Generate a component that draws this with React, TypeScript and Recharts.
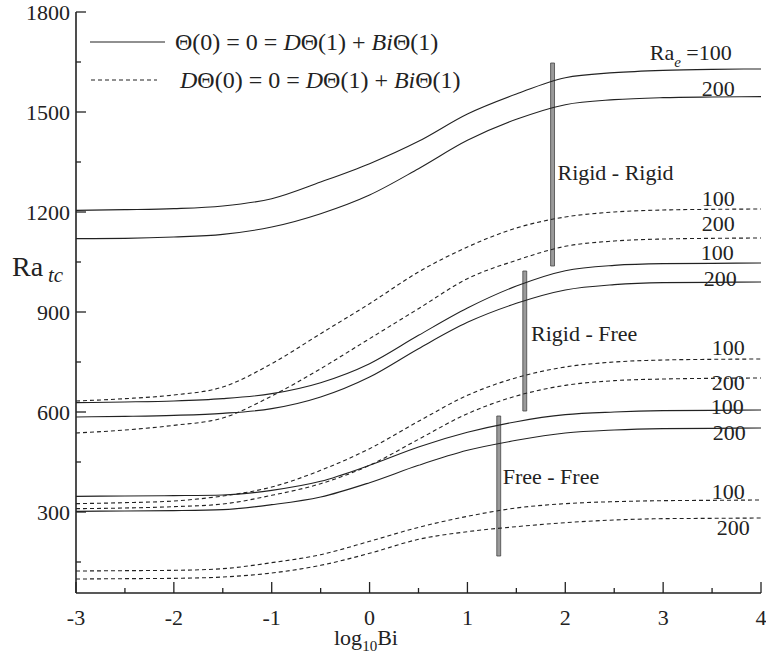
import React from "react";
import {
  LineChart,
  Line,
  XAxis,
  YAxis,
  ReferenceArea,
  ReferenceDot,
} from "recharts";

const FONT = '"Liberation Serif", "Times New Roman", serif';
const INK = "#222";
const TXT: React.CSSProperties = { fontFamily: FONT };

// log10 Bi sample points
const xs = [-3, -2.5, -2, -1.5, -1, -0.5, 0, 0.5, 1, 1.5, 2, 2.5, 3, 3.5, 4];

// Rigid - Rigid
const rrSolid100 = [1205, 1207, 1210, 1218, 1240, 1290, 1345, 1412, 1494, 1554, 1603, 1618, 1625, 1628, 1629];
const rrSolid200 = [1120, 1121, 1125, 1133, 1155, 1195, 1251, 1330, 1415, 1478, 1522, 1537, 1543, 1545, 1546];
const rrDash100 = [633, 640, 651, 675, 745, 835, 925, 1020, 1095, 1152, 1185, 1200, 1206, 1208, 1209];
const rrDash200 = [537, 546, 560, 582, 648, 730, 820, 910, 1000, 1055, 1097, 1113, 1119, 1121, 1122];

// Rigid - Free
const rfSolid100 = [628, 630, 633, 640, 655, 688, 745, 830, 912, 978, 1024, 1040, 1045, 1046, 1047];
const rfSolid200 = [585, 587, 590, 596, 610, 645, 705, 790, 869, 926, 966, 982, 988, 989, 990];
const rfDash100 = [325, 328, 333, 348, 375, 425, 490, 572, 650, 703, 735, 750, 756, 758, 759];
const rfDash200 = [310, 312, 316, 324, 350, 385, 440, 518, 595, 648, 680, 694, 699, 701, 702];

// Free - Free
const ffSolid100 = [347, 348, 349, 351, 365, 392, 440, 495, 539, 571, 592, 600, 604, 605, 606];
const ffSolid200 = [302, 303, 304, 307, 322, 345, 388, 440, 485, 515, 537, 546, 550, 551, 552];
const ffDash100 = [123, 124, 125, 130, 148, 172, 212, 254, 287, 312, 325, 331, 334, 335, 336];
const ffDash200 = [99, 100, 101, 105, 117, 140, 176, 218, 241, 256, 268, 276, 280, 281, 282];

const xTicks = [-3, -2.5, -2, -1.5, -1, -0.5, 0, 0.5, 1, 1.5, 2, 2.5, 3, 3.5, 4];
const yTicks = [150, 300, 450, 600, 750, 900, 1050, 1200, 1350, 1500, 1650, 1800];
const xDomain = [-3, 4];
const yDomain = [57, 1800];

const series = [
  { key: "rrS100", values: rrSolid100, dashed: false },
  { key: "rrS200", values: rrSolid200, dashed: false },
  { key: "rrD100", values: rrDash100, dashed: true },
  { key: "rrD200", values: rrDash200, dashed: true },
  { key: "rfS100", values: rfSolid100, dashed: false },
  { key: "rfS200", values: rfSolid200, dashed: false },
  { key: "rfD100", values: rfDash100, dashed: true },
  { key: "rfD200", values: rfDash200, dashed: true },
  { key: "ffS100", values: ffSolid100, dashed: false },
  { key: "ffS200", values: ffSolid200, dashed: false },
  { key: "ffD100", values: ffDash100, dashed: true },
  { key: "ffD200", values: ffDash200, dashed: true },
];

const data = xs.map((x, i) => {
  const row: Record<string, number> = { x };
  series.forEach((s) => {
    row[s.key] = s.values[i];
  });
  return row;
});

// vertical gray bars
const bars = [
  { x: 1.87, y1: 1038, y2: 1647 },
  { x: 1.586, y1: 603, y2: 1023 },
  { x: 1.32, y1: 168, y2: 588 },
];
const barHalf = 0.02;

// region labels
const regionLabels = [
  { text: "Rigid - Rigid", x: 1.92, y: 1320 },
  { text: "Rigid - Free", x: 1.65, y: 837 },
  { text: "Free - Free", x: 1.36, y: 408 },
];

// Ra_e value labels at right side
const valueLabels = [
  { text: "200", x: 3.394, y: 1572 },
  { text: "100", x: 3.394, y: 1242 },
  { text: "200", x: 3.394, y: 1167 },
  { text: "100", x: 3.384, y: 1080 },
  { text: "200", x: 3.415, y: 1002 },
  { text: "100", x: 3.496, y: 795 },
  { text: "200", x: 3.496, y: 690 },
  { text: "100", x: 3.486, y: 618 },
  { text: "200", x: 3.507, y: 540 },
  { text: "100", x: 3.496, y: 363 },
  { text: "200", x: 3.548, y: 255 },
];

const XTickBottom = (props: any) => {
  const { x, y, payload } = props;
  const v = payload.value;
  const major = Number.isInteger(v);
  return (
    <g>
      <line x1={x} x2={x} y1={y} y2={y - (major ? 11 : 5)} stroke={INK} strokeWidth={1.3} />
      {major && (
        <text x={x} y={y + 32} textAnchor="middle" fontSize={22} style={TXT} fill={INK}>
          {v}
        </text>
      )}
    </g>
  );
};

const XTickTop = (props: any) => {
  const { x, y, payload } = props;
  const major = Number.isInteger(payload.value);
  return <line x1={x} x2={x} y1={y} y2={y + (major ? 8 : 4)} stroke={INK} strokeWidth={1.1} />;
};

const YTickLeft = (props: any) => {
  const { x, y, payload } = props;
  const v = payload.value;
  const major = v % 300 === 0;
  return (
    <g>
      <line x1={x} x2={x + (major ? 10 : 5)} y1={y} y2={y} stroke={INK} strokeWidth={1.3} />
      {major && (
        <text x={x - 6} y={y} dy="0.35em" textAnchor="end" fontSize={22} style={TXT} fill={INK}>
          {v}
        </text>
      )}
    </g>
  );
};

const YTickRight = (props: any) => {
  const { x, y, payload } = props;
  const major = payload.value % 300 === 0;
  return <line x1={x} x2={x - (major ? 8 : 4)} y1={y} y2={y} stroke={INK} strokeWidth={1.1} />;
};

const textShape = (text: string) => (p: any) => (
  <text x={p.cx} y={p.cy} dy="0.35em" textAnchor="start" fontSize={22} style={TXT} fill={INK}>
    {text}
  </text>
);

const raeShape = (p: any) => (
  <text x={p.cx} y={p.cy} dy="0.35em" textAnchor="start" fontSize={22} style={TXT} fill={INK}>
    <tspan>Ra</tspan>
    <tspan fontSize={15} fontStyle="italic" dy={7}>e</tspan>
    <tspan dy={-7}> =100</tspan>
  </text>
);

const Legend = () => (
  <svg width={766} height={110} style={{ position: "absolute", left: 0, top: 0, pointerEvents: "none" }}>
    <line x1={90} x2={165} y1={42} y2={42} stroke={INK} strokeWidth={1.1} />
    <text x={175} y={42} dy="0.35em" fontSize={24} style={TXT} fill={INK}>
      <tspan>Θ(0) = 0 = </tspan>
      <tspan fontStyle="italic">D</tspan>
      <tspan>Θ(1) + </tspan>
      <tspan fontStyle="italic">Bi</tspan>
      <tspan>Θ(1)</tspan>
    </text>
    <line x1={91} x2={157} y1={80} y2={80} stroke={INK} strokeWidth={1.1} strokeDasharray="4 3" />
    <text x={180} y={80} dy="0.35em" fontSize={24} style={TXT} fill={INK}>
      <tspan fontStyle="italic">D</tspan>
      <tspan>Θ(0) = 0 = </tspan>
      <tspan fontStyle="italic">D</tspan>
      <tspan>Θ(1) + </tspan>
      <tspan fontStyle="italic">Bi</tspan>
      <tspan>Θ(1)</tspan>
    </text>
  </svg>
);

const AxisTitles = () => (
  <svg width={766} height={657} style={{ position: "absolute", left: 0, top: 0, pointerEvents: "none" }}>
    <text x={12} y={276} fontSize={28} style={TXT} fill={INK}>
      Ra
    </text>
    <text x={48} y={282} fontSize={21} fontStyle="italic" style={TXT} fill={INK}>
      tc
    </text>
    <text x={334} y={645} fontSize={22} style={TXT} fill={INK}>
      <tspan>log</tspan>
      <tspan fontSize={15} dy={6}>10</tspan>
      <tspan dy={-6}>Bi</tspan>
    </text>
  </svg>
);

export default function App() {
  return (
    <div style={{ position: "absolute", left: 0, top: 0, width: 766, height: 657, background: "#fff", fontFamily: FONT }}>
      <LineChart
        width={766}
        height={657}
        data={data}
        margin={{ top: 12, right: 5, left: 0, bottom: 0 }}
        style={TXT}
      >
        <XAxis
          dataKey="x"
          type="number"
          domain={xDomain}
          ticks={xTicks}
          interval={0}
          height={64}
          tickSize={0}
          tickMargin={0}
          tick={<XTickBottom />}
          axisLine={{ stroke: INK, strokeWidth: 1.6 }}
          tickLine={false}
          allowDataOverflow
        />
        <XAxis
          xAxisId="top"
          orientation="top"
          type="number"
          domain={xDomain}
          ticks={xTicks}
          interval={0}
          height={0}
          tickSize={0}
          tickMargin={0}
          tick={<XTickTop />}
          axisLine={{ stroke: INK, strokeWidth: 1.4 }}
          tickLine={false}
          allowDataOverflow
        />
        <YAxis
          type="number"
          domain={yDomain}
          ticks={yTicks}
          interval={0}
          width={76}
          tickSize={0}
          tickMargin={0}
          tick={<YTickLeft />}
          axisLine={{ stroke: INK, strokeWidth: 1.6 }}
          tickLine={false}
          allowDataOverflow
        />
        <YAxis
          yAxisId="right"
          orientation="right"
          type="number"
          domain={yDomain}
          ticks={yTicks}
          interval={0}
          width={0}
          tickSize={0}
          tickMargin={0}
          tick={<YTickRight />}
          axisLine={{ stroke: INK, strokeWidth: 1.6 }}
          tickLine={false}
          allowDataOverflow
        />
        {series.map((s) => (
          <Line
            key={s.key}
            dataKey={s.key}
            type="monotone"
            stroke={INK}
            strokeWidth={1.1}
            strokeDasharray={s.dashed ? "4 3" : undefined}
            dot={false}
            activeDot={false}
            isAnimationActive={false}
          />
        ))}
        {bars.map((b, i) => (
          <ReferenceArea
            key={"bar" + i}
            x1={b.x - barHalf}
            x2={b.x + barHalf}
            y1={b.y1}
            y2={b.y2}
            fill="#9a9a9a"
            fillOpacity={1}
            stroke="#444"
            strokeWidth={0.8}
          />
        ))}
        {regionLabels.map((l, i) => (
          <ReferenceDot key={"rl" + i} x={l.x} y={l.y} r={0} shape={textShape(l.text)} />
        ))}
        <ReferenceDot x={2.863} y={1680} r={0} shape={raeShape} />
        {valueLabels.map((l, i) => (
          <ReferenceDot key={"vl" + i} x={l.x} y={l.y} r={0} shape={textShape(l.text)} />
        ))}
      </LineChart>
      <Legend />
      <AxisTitles />
    </div>
  );
}
